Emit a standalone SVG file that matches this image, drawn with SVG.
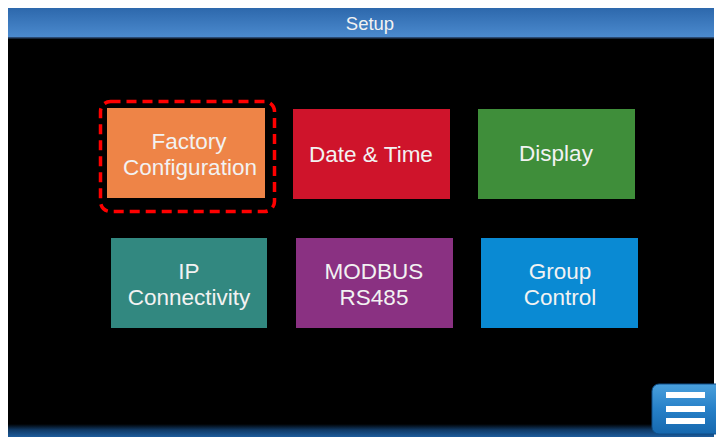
<svg xmlns="http://www.w3.org/2000/svg" width="716" height="437" viewBox="0 0 716 437">
<defs>
<linearGradient id="title" x1="0" y1="0" x2="0" y2="1">
<stop offset="0" stop-color="#2d68ac"/>
<stop offset="1" stop-color="#4c8bcf"/>
</linearGradient>
<linearGradient id="bottom" x1="0" y1="0" x2="0" y2="1">
<stop offset="0" stop-color="#000000"/>
<stop offset="0.45" stop-color="#103a66"/>
<stop offset="1" stop-color="#1d5c9c"/>
</linearGradient>
<linearGradient id="menu" x1="0" y1="0" x2="0" y2="1">
<stop offset="0" stop-color="#4aa0dc"/>
<stop offset="0.5" stop-color="#2680c8"/>
<stop offset="1" stop-color="#1668ae"/>
</linearGradient>
<style>
.tile{stroke:none}
.lbl{font-family:"Liberation Sans",Arial,sans-serif;font-size:22.5px;fill:#f2f2f2;text-anchor:middle}
</style>
</defs>
<rect x="0" y="0" width="716" height="437" fill="#ffffff"/>
<rect x="8" y="38" width="706" height="399" fill="#000000"/>
<rect x="8" y="8" width="706" height="30" fill="url(#title)"/>
<rect x="8" y="37" width="706" height="1.5" fill="#2b4a72"/>
<text x="370" y="29.5" style="font-family:'Liberation Sans',Arial,sans-serif;font-size:18.5px;fill:#f2f2f2;text-anchor:middle">Setup</text>
<rect x="8" y="424" width="706" height="13" fill="url(#bottom)"/>

<g id="factory">
<rect class="tile" x="107" y="108" width="158" height="90" fill="#ee8447"/>
<text class="lbl" x="189" y="149">Factory</text>
<text class="lbl" x="190" y="175">Configuration</text>
</g>
<g id="date-time">
<rect class="tile" x="293" y="109" width="157" height="90" fill="#cf142b"/>
<text class="lbl" x="371" y="162">Date &amp; Time</text>
</g>
<g id="display">
<rect class="tile" x="478" y="109" width="157" height="90" fill="#3f8e3a"/>
<text class="lbl" x="556" y="161">Display</text>
</g>
<g id="ip">
<rect class="tile" x="111" y="238" width="156" height="90" fill="#328880"/>
<text class="lbl" x="189" y="279">IP</text>
<text class="lbl" x="189" y="305">Connectivity</text>
</g>
<g id="modbus">
<rect class="tile" x="296" y="238" width="157" height="90" fill="#8a3182"/>
<text class="lbl" x="374" y="279">MODBUS</text>
<text class="lbl" x="374" y="305">RS485</text>
</g>
<g id="group">
<rect class="tile" x="481" y="238" width="157" height="90" fill="#0a8ad3"/>
<text class="lbl" x="560" y="279">Group</text>
<text class="lbl" x="560" y="305">Control</text>
</g>

<g id="highlight">
<rect x="100.5" y="101.5" width="174" height="110" rx="10" fill="none" stroke="#ff0000" stroke-width="3.5" stroke-dasharray="10,6"/>
</g>

<g id="menu-button">
<rect x="652" y="384" width="72" height="50" rx="7" fill="url(#menu)" stroke="#0e4f8a" stroke-width="1"/>
<rect x="666" y="392" width="39" height="6" fill="#ffffff"/>
<rect x="666" y="406" width="39" height="6" fill="#ffffff"/>
<rect x="666" y="418" width="39" height="6" fill="#ffffff"/>
</g>
<g id="connectors"/>
</svg>
